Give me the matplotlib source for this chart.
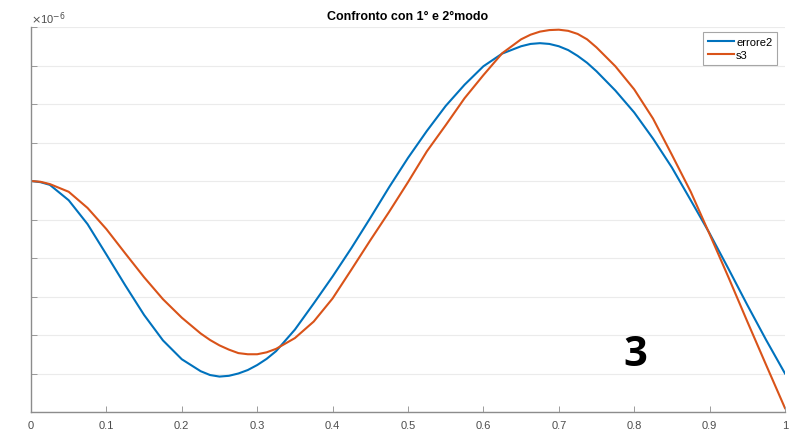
import matplotlib
matplotlib.use("Agg")
import matplotlib.pyplot as plt
import numpy as np

# values, in units of 1e-6 (y tick labels are cropped away)
x_vals = [0.0, 0.0125, 0.025, 0.05, 0.075, 0.1, 0.125, 0.15, 0.175, 0.2,
          0.225, 0.2375, 0.25, 0.2625, 0.275, 0.2875, 0.3, 0.3125, 0.325, 0.35,
          0.375, 0.4, 0.425, 0.45, 0.475, 0.5, 0.525, 0.55, 0.575, 0.6,
          0.625, 0.65, 0.6625, 0.675, 0.6875, 0.7, 0.7125, 0.725, 0.7375, 0.75,
          0.775, 0.8, 0.825, 0.85, 0.875, 0.9, 0.925, 0.95, 0.975, 1.0]

errore2 = [6.00, 5.97, 5.90, 5.50, 4.88, 4.09, 3.29, 2.52, 1.86, 1.37,
           1.06, 0.96, 0.92, 0.94, 1.00, 1.09, 1.22, 1.38, 1.58, 2.14,
           2.82, 3.52, 4.26, 5.04, 5.84, 6.60, 7.30, 7.95, 8.50, 8.98,
           9.31, 9.50, 9.56, 9.58, 9.56, 9.50, 9.40, 9.25, 9.07, 8.85,
           8.35, 7.78, 7.10, 6.35, 5.50, 4.64, 3.72, 2.78, 1.87, 1.00]

s3 = [6.00, 5.98, 5.92, 5.72, 5.30, 4.75, 4.12, 3.50, 2.93, 2.45,
      2.04, 1.87, 1.73, 1.62, 1.53, 1.50, 1.50, 1.55, 1.64, 1.92,
      2.35, 2.95, 3.70, 4.46, 5.20, 5.97, 6.77, 7.45, 8.15, 8.75,
      9.32, 9.68, 9.80, 9.88, 9.92, 9.93, 9.90, 9.82, 9.68, 9.47,
      8.98, 8.38, 7.62, 6.68, 5.72, 4.62, 3.50, 2.35, 1.22, 0.10]

x_ticks = [0, 0.1, 0.2, 0.3, 0.4, 0.5, 0.6, 0.7, 0.8, 0.9, 1]
x_tick_labels = ["0", "0.1", "0.2", "0.3", "0.4", "0.5", "0.6", "0.7", "0.8", "0.9", "1"]

BLUE = "#0072BD"
ORANGE = "#D95319"

plt.rcParams["font.family"] = ["Liberation Sans", "DejaVu Sans"]

fig = plt.figure(figsize=(7.95, 4.35), dpi=100)
ax = fig.add_axes([31 / 795, 1 - 413 / 435, (785 - 31) / 795, (413 - 28) / 435])

ax.plot(x_vals, errore2, color=BLUE, linewidth=1.5, label="errore2")
ax.plot(x_vals, s3, color=ORANGE, linewidth=1.5, label="s3")

ax.set_xlim(0, 1)
ax.set_ylim(0, 10)
ax.set_xticks(x_ticks)
ax.set_xticklabels(x_tick_labels)
ax.set_yticks(np.arange(0, 11, 1))
ax.set_yticklabels([])

# only horizontal grid lines in the original
ax.yaxis.grid(True, color="#ebebeb", linewidth=0.8)
ax.xaxis.grid(False)
ax.set_axisbelow(True)
for side in ["top", "right"]:
    ax.spines[side].set_visible(False)
for side in ["left", "bottom"]:
    ax.spines[side].set_color("#8c8c8c")
    ax.spines[side].set_linewidth(1.0)
ax.tick_params(direction="in", length=4, width=0.6, colors="#8c8c8c",
               labelcolor="#4d4d4d", labelsize=8, pad=6)

ax.set_title("Confronto con 1° e 2°modo", fontsize=9, fontweight="bold", pad=6)
fig.text(31 / 795, 1 - 19 / 435, r"$\times$10$^{-6}$", fontsize=8, color="#4d4d4d",
         ha="left", va="center")

leg = ax.legend(loc="upper right", bbox_to_anchor=(0.99, 0.987), fontsize=8,
                handlelength=2.3, handletextpad=0.2, borderpad=0.45,
                labelspacing=0.3, fancybox=False, framealpha=1, borderaxespad=0)
leg.get_frame().set_edgecolor("#a6a6a6")
leg.get_frame().set_linewidth(0.8)

fig.text(635 / 795, 1 - 356 / 435, "3", fontsize=30, fontweight="bold",
         family=["Open Sans", "DejaVu Sans"], ha="center", va="center", color="black")

fig.savefig("out.png", dpi=100)
